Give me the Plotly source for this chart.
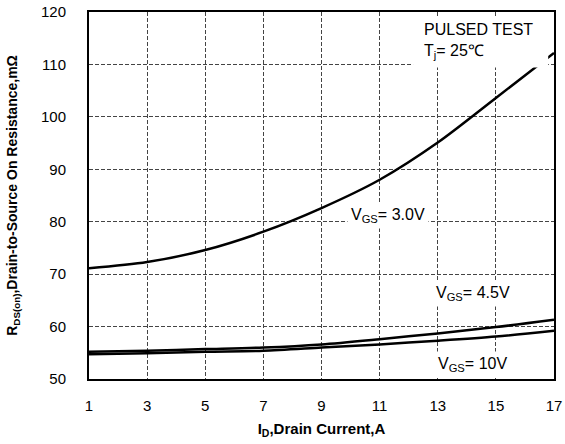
import plotly.graph_objects as go

# Data
current_a = [1, 3, 5, 7, 9, 11, 13, 15, 17]
rds_vgs_3v0 = [71.1, 72.3, 74.6, 78.1, 82.6, 88.0, 95.1, 103.6, 112.2]
rds_vgs_4v5 = [55.2, 55.4, 55.7, 56.0, 56.6, 57.6, 58.7, 59.9, 61.3]
rds_vgs_10v = [54.7, 54.9, 55.2, 55.4, 56.0, 56.6, 57.3, 58.1, 59.2]
x_ticks = [1, 3, 5, 7, 9, 11, 13, 15, 17]
y_ticks = [50, 60, 70, 80, 90, 100, 110, 120]

FONT = "Arial, Liberation Sans, sans-serif"

fig = go.Figure()
for ys in (rds_vgs_3v0, rds_vgs_4v5, rds_vgs_10v):
    fig.add_trace(go.Scatter(
        x=current_a, y=ys, mode="lines",
        line=dict(color="black", width=2.5, shape="spline", smoothing=0.8),
        showlegend=False, hoverinfo="skip"))

# white patch behind the "PULSED TEST" note (hides grid and curve there)
fig.add_shape(type="rect", xref="x", yref="y", x0=12.15, x1=16.8, y0=109.4, y1=118.9,
              fillcolor="white", line=dict(width=0), layer="above")

ann_font = dict(family=FONT, size=16, color="black")
fig.add_annotation(x=11.3, y=81.2, xref="x", yref="y",
                   text="V<sub>GS</sub>= 3.0V", showarrow=False,
                   font=ann_font, bgcolor="white", borderpad=3)
fig.add_annotation(x=14.2, y=66.4, xref="x", yref="y",
                   text="V<sub>GS</sub>= 4.5V", showarrow=False,
                   font=ann_font, bgcolor="white", borderpad=3)
fig.add_annotation(x=14.2, y=52.7, xref="x", yref="y",
                   text="V<sub>GS</sub>= 10V", showarrow=False,
                   font=ann_font, bgcolor="white", borderpad=3)
fig.add_annotation(x=12.45, y=118.6, xref="x", yref="y",
                   xanchor="left", yanchor="top", align="left",
                   text="PULSED TEST<br>T<sub>j</sub>= 25\u2103", showarrow=False,
                   font=ann_font)

axis_common = dict(
    showline=True, linecolor="black", linewidth=2, mirror=True,
    showgrid=True, gridcolor="#444444", griddash="4px,2px", gridwidth=1,
    ticks="", zeroline=False, automargin=False,
    tickfont=dict(family=FONT, size=15, color="black"),
)
fig.update_xaxes(range=[1, 17], tickvals=x_ticks, ticklabelstandoff=12,
                 title=dict(text="<b>I<sub>D</sub>,Drain Current,A</b>",
                            font=dict(family=FONT, size=15, color="black"),
                            standoff=10),
                 **axis_common)
fig.update_yaxes(range=[50, 120], tickvals=y_ticks, ticklabelstandoff=18,
                 title=dict(text="<b>R<sub>DS(on)</sub>,Drain-to-Source On Resistance,m\u03a9</b>",
                            font=dict(family=FONT, size=14, color="black"),
                            standoff=20),
                 **axis_common)

fig.update_layout(
    width=565, height=444,
    margin=dict(l=89, r=11, t=12, b=65),
    paper_bgcolor="white", plot_bgcolor="white",
)

fig.write_html("out.html")
